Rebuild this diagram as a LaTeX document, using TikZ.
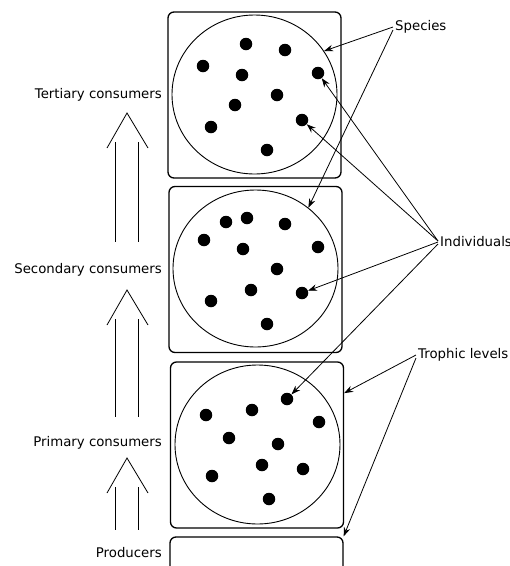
\documentclass[tikz,border=0pt]{standalone}
\usepackage{fontspec}
\setmainfont{DejaVu Sans}
\usetikzlibrary{arrows.meta,calc,shapes.geometric}
\tikzset{
  pics/uparrow/.style={code={
    \draw[flow] (-20,35) -- (0,0) -- (21,35);
    \draw[flow] (-12,29) -- (-12,#1);
    \draw[flow] (11,29) -- (11,#1);
  }}
}
\begin{document}
\begin{tikzpicture}[x=1pt,y=-1pt,
  level/.style={draw,rounded corners=6pt,line width=1.3pt,minimum width=173pt,minimum height=166pt,inner sep=0pt},
  spec/.style={draw,ellipse,line width=0.9pt,minimum width=165pt,minimum height=159pt,inner sep=0pt},
  ind/.style={circle,fill=black,minimum size=12.5pt,inner sep=0pt},
  tag/.style={font=\fontsize{13.3}{16}\selectfont,inner sep=0pt},
  pointer/.style={-{Stealth[length=9pt,width=6.5pt]},line width=0.8pt},
  flow/.style={line width=0.8pt}
]
\useasboundingbox (0,0) rectangle (510,566);

% trophic level boxes
\node[level] (lvl1) at (254.5,95) {};
\node[level] (lvl2) at (255.5,269.5) {};
\node[level] (lvl3) at (257,445) {};
\node[level] (lvl4) at (256.5,620) {};

% species circles
\node[spec] (sp1) at (254.5,94.5) {};
\node[spec,minimum height=157pt] (sp2) at (255.5,268.5) {};
\node[spec] (sp3) at (257.5,444.5) {};

% individuals
\foreach \x/\y [count=\i] in {246/44,285/50,203/66,242/75,318/73,277/95,235/105,302/120,211/127,267/150}
  \node[ind] (a\i) at (\x,\y) {};
\foreach \x/\y [count=\i] in {226/222,247/218,285/224,204/240,243/249,318/247,277/269,251/290,302/293,211/301,267/324}
  \node[ind] (b\i) at (\x,\y) {};
\foreach \x/\y [count=\i] in {287/399,206/415,252/410,319/422,229/438,278/444,262/465,212/476,303/469,269/499}
  \node[ind] (c\i) at (\x,\y) {};

% level names
\node[tag,anchor=east] (tert) at (162,95) {Tertiary consumers};
\node[tag,anchor=east] (sec) at (162,270) {Secondary consumers};
\node[tag,anchor=east] (prim) at (162,443) {Primary consumers};
\node[tag,anchor=east] (prod) at (162,553) {Producers};

% energy flow arrows
\pic at (127,113) {uparrow=129};
\pic at (127,290) {uparrow=127};
\pic at (127,458) {uparrow=72};

% annotation labels
\node[tag,anchor=west] (species) at (395,27) {Species};
\node[tag,anchor=west] (indiv) at (440,242) {Individuals};
\node[tag,anchor=west] (troph) at (418,355) {Trophic levels};

\draw[pointer] ([xshift=-2pt]species.west) -- (sp1.32);
\draw[pointer] ([xshift=-2pt,yshift=-3pt]species.west) -- (sp2.49);

\draw[pointer] ([xshift=-2pt,yshift=1pt]indiv.west) -- (a5);
\draw[pointer] ([xshift=-2pt,yshift=1pt]indiv.west) -- (a8);
\draw[pointer] ([xshift=-2pt]indiv.west) -- (b9);
\draw[pointer] ([xshift=-2pt,yshift=-2pt]indiv.west) -- (c1);

\draw[pointer] ([xshift=-2pt]troph.west) -- ($(lvl3.north east)!0.19!(lvl3.south east)$);
\draw[pointer] ([xshift=-2pt,yshift=-3pt]troph.west) -- (lvl4.north east);
\end{tikzpicture}
\end{document}
